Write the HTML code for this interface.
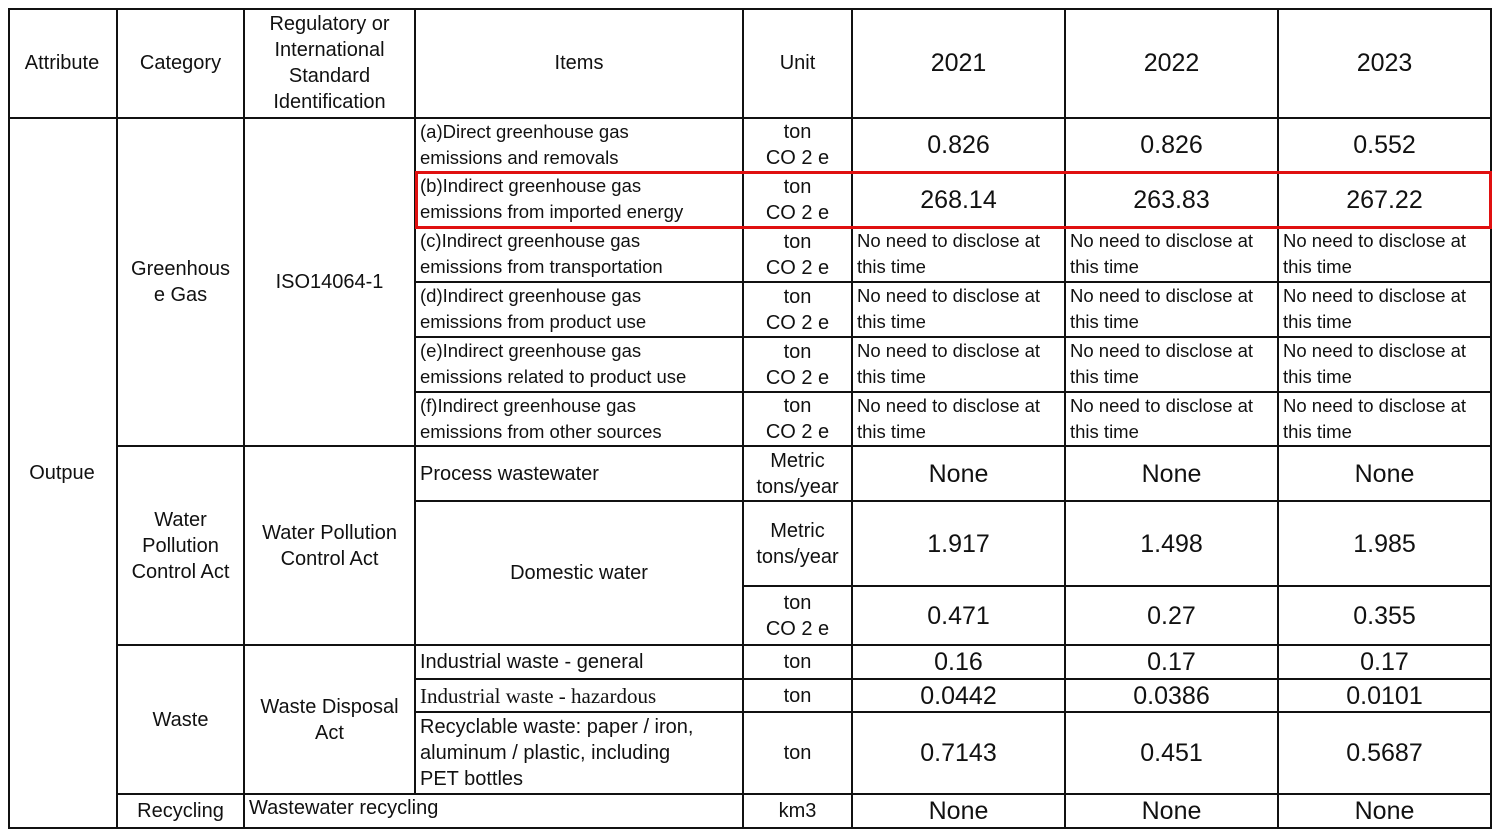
<!DOCTYPE html>
<html><head><meta charset="utf-8"><style>
body{margin:0;width:1500px;height:834px;background:#fff;position:relative;overflow:hidden;font-family:"Liberation Sans","DejaVu Sans",sans-serif;color:#111}
.c{position:absolute;box-sizing:border-box;border-right:2px solid #111;border-bottom:2px solid #111;display:flex;align-items:center;justify-content:center;text-align:center;font-size:20px;line-height:26px}
.l{justify-content:flex-start;text-align:left;padding-left:4px}
.n{font-size:25px}
.s{font-size:18.5px;line-height:26px;align-items:stretch;justify-content:flex-start;text-align:left;padding-left:4px}
#tbl{position:absolute;left:8px;top:8px;width:1483px;height:820px;box-sizing:border-box;border-left:2px solid #111;border-top:2px solid #111}
</style></head><body>
<div style="position:absolute;left:18px;top:-28px;color:#1a3fd6;font-size:30px;font-weight:bold;letter-spacing:2px">Annual Environmental</div>
<div id="tbl"></div>
<div class="c" style="left:8px;top:8px;width:110px;height:111px">Attribute</div>
<div class="c" style="left:118px;top:8px;width:127px;height:111px">Category</div>
<div class="c" style="left:245px;top:8px;width:171px;height:111px">Regulatory or<br>International<br>Standard<br>Identification</div>
<div class="c" style="left:416px;top:8px;width:328px;height:111px">Items</div>
<div class="c" style="left:744px;top:8px;width:109px;height:111px">Unit</div>
<div class="c n" style="left:853px;top:8px;width:213px;height:111px">2021</div>
<div class="c n" style="left:1066px;top:8px;width:213px;height:111px">2022</div>
<div class="c n" style="left:1279px;top:8px;width:213px;height:111px">2023</div>

<div class="c" style="left:8px;top:119px;width:110px;height:710px">Outpue</div>
<div class="c" style="left:118px;top:119px;width:127px;height:328px">Greenhous<br>e Gas</div>
<div class="c" style="left:245px;top:119px;width:171px;height:328px">ISO14064-1</div>

<div class="c s" style="left:416px;top:119px;width:328px;height:54px">(a)Direct greenhouse gas<br>emissions and removals</div>
<div class="c" style="left:744px;top:119px;width:109px;height:54px">ton<br>CO 2 e</div>
<div class="c n" style="left:853px;top:119px;width:213px;height:54px">0.826</div>
<div class="c n" style="left:1066px;top:119px;width:213px;height:54px">0.826</div>
<div class="c n" style="left:1279px;top:119px;width:213px;height:54px">0.552</div>

<div class="c s" style="left:416px;top:173px;width:328px;height:55px">(b)Indirect greenhouse gas<br>emissions from imported energy</div>
<div class="c" style="left:744px;top:173px;width:109px;height:55px">ton<br>CO 2 e</div>
<div class="c n" style="left:853px;top:173px;width:213px;height:55px">268.14</div>
<div class="c n" style="left:1066px;top:173px;width:213px;height:55px">263.83</div>
<div class="c n" style="left:1279px;top:173px;width:213px;height:55px">267.22</div>

<div class="c s" style="left:416px;top:228px;width:328px;height:55px">(c)Indirect greenhouse gas<br>emissions from transportation</div>
<div class="c" style="left:744px;top:228px;width:109px;height:55px">ton<br>CO 2 e</div>
<div class="c s" style="left:853px;top:228px;width:213px;height:55px">No need to disclose at<br>this time</div>
<div class="c s" style="left:1066px;top:228px;width:213px;height:55px">No need to disclose at<br>this time</div>
<div class="c s" style="left:1279px;top:228px;width:213px;height:55px">No need to disclose at<br>this time</div>

<div class="c s" style="left:416px;top:283px;width:328px;height:55px">(d)Indirect greenhouse gas<br>emissions from product use</div>
<div class="c" style="left:744px;top:283px;width:109px;height:55px">ton<br>CO 2 e</div>
<div class="c s" style="left:853px;top:283px;width:213px;height:55px">No need to disclose at<br>this time</div>
<div class="c s" style="left:1066px;top:283px;width:213px;height:55px">No need to disclose at<br>this time</div>
<div class="c s" style="left:1279px;top:283px;width:213px;height:55px">No need to disclose at<br>this time</div>

<div class="c s" style="left:416px;top:338px;width:328px;height:55px">(e)Indirect greenhouse gas<br>emissions related to product use</div>
<div class="c" style="left:744px;top:338px;width:109px;height:55px">ton<br>CO 2 e</div>
<div class="c s" style="left:853px;top:338px;width:213px;height:55px">No need to disclose at<br>this time</div>
<div class="c s" style="left:1066px;top:338px;width:213px;height:55px">No need to disclose at<br>this time</div>
<div class="c s" style="left:1279px;top:338px;width:213px;height:55px">No need to disclose at<br>this time</div>

<div class="c s" style="left:416px;top:393px;width:328px;height:54px">(f)Indirect greenhouse gas<br>emissions from other sources</div>
<div class="c" style="left:744px;top:393px;width:109px;height:54px">ton<br>CO 2 e</div>
<div class="c s" style="left:853px;top:393px;width:213px;height:54px">No need to disclose at<br>this time</div>
<div class="c s" style="left:1066px;top:393px;width:213px;height:54px">No need to disclose at<br>this time</div>
<div class="c s" style="left:1279px;top:393px;width:213px;height:54px">No need to disclose at<br>this time</div>

<div class="c" style="left:118px;top:447px;width:127px;height:199px">Water<br>Pollution<br>Control Act</div>
<div class="c" style="left:245px;top:447px;width:171px;height:199px">Water Pollution<br>Control Act</div>
<div class="c l" style="left:416px;top:447px;width:328px;height:55px">Process wastewater</div>
<div class="c" style="left:744px;top:447px;width:109px;height:55px">Metric<br>tons/year</div>
<div class="c n" style="left:853px;top:447px;width:213px;height:55px">None</div>
<div class="c n" style="left:1066px;top:447px;width:213px;height:55px">None</div>
<div class="c n" style="left:1279px;top:447px;width:213px;height:55px">None</div>

<div class="c" style="left:416px;top:502px;width:328px;height:144px">Domestic water</div>
<div class="c" style="left:744px;top:502px;width:109px;height:85px">Metric<br>tons/year</div>
<div class="c n" style="left:853px;top:502px;width:213px;height:85px">1.917</div>
<div class="c n" style="left:1066px;top:502px;width:213px;height:85px">1.498</div>
<div class="c n" style="left:1279px;top:502px;width:213px;height:85px">1.985</div>
<div class="c" style="left:744px;top:587px;width:109px;height:59px">ton<br>CO 2 e</div>
<div class="c n" style="left:853px;top:587px;width:213px;height:59px">0.471</div>
<div class="c n" style="left:1066px;top:587px;width:213px;height:59px">0.27</div>
<div class="c n" style="left:1279px;top:587px;width:213px;height:59px">0.355</div>

<div class="c" style="left:118px;top:646px;width:127px;height:149px">Waste</div>
<div class="c" style="left:245px;top:646px;width:171px;height:149px">Waste Disposal<br>Act</div>
<div class="c l" style="left:416px;top:646px;width:328px;height:34px">Industrial waste - general</div>
<div class="c" style="left:744px;top:646px;width:109px;height:34px">ton</div>
<div class="c n" style="left:853px;top:646px;width:213px;height:34px">0.16</div>
<div class="c n" style="left:1066px;top:646px;width:213px;height:34px">0.17</div>
<div class="c n" style="left:1279px;top:646px;width:213px;height:34px">0.17</div>
<div class="c l" style="left:416px;top:680px;width:328px;height:33px;font-family:'Liberation Serif',serif;font-size:21px">Industrial waste - hazardous</div>
<div class="c" style="left:744px;top:680px;width:109px;height:33px">ton</div>
<div class="c n" style="left:853px;top:680px;width:213px;height:33px">0.0442</div>
<div class="c n" style="left:1066px;top:680px;width:213px;height:33px">0.0386</div>
<div class="c n" style="left:1279px;top:680px;width:213px;height:33px">0.0101</div>
<div class="c l" style="left:416px;top:713px;width:328px;height:82px">Recyclable waste: paper / iron,<br>aluminum / plastic, including<br>PET bottles</div>
<div class="c" style="left:744px;top:713px;width:109px;height:82px">ton</div>
<div class="c n" style="left:853px;top:713px;width:213px;height:82px">0.7143</div>
<div class="c n" style="left:1066px;top:713px;width:213px;height:82px">0.451</div>
<div class="c n" style="left:1279px;top:713px;width:213px;height:82px">0.5687</div>

<div class="c" style="left:118px;top:795px;width:127px;height:34px">Recycling</div>
<div class="c l" style="left:245px;top:795px;width:499px;height:34px;align-items:flex-start">Wastewater recycling</div>
<div class="c" style="left:744px;top:795px;width:109px;height:34px">km3</div>
<div class="c n" style="left:853px;top:795px;width:213px;height:34px">None</div>
<div class="c n" style="left:1066px;top:795px;width:213px;height:34px">None</div>
<div class="c n" style="left:1279px;top:795px;width:213px;height:34px">None</div>

<div style="position:absolute;left:415px;top:171px;width:1077px;height:58px;box-sizing:border-box;border:3px solid #e01010"></div>
</body></html>
